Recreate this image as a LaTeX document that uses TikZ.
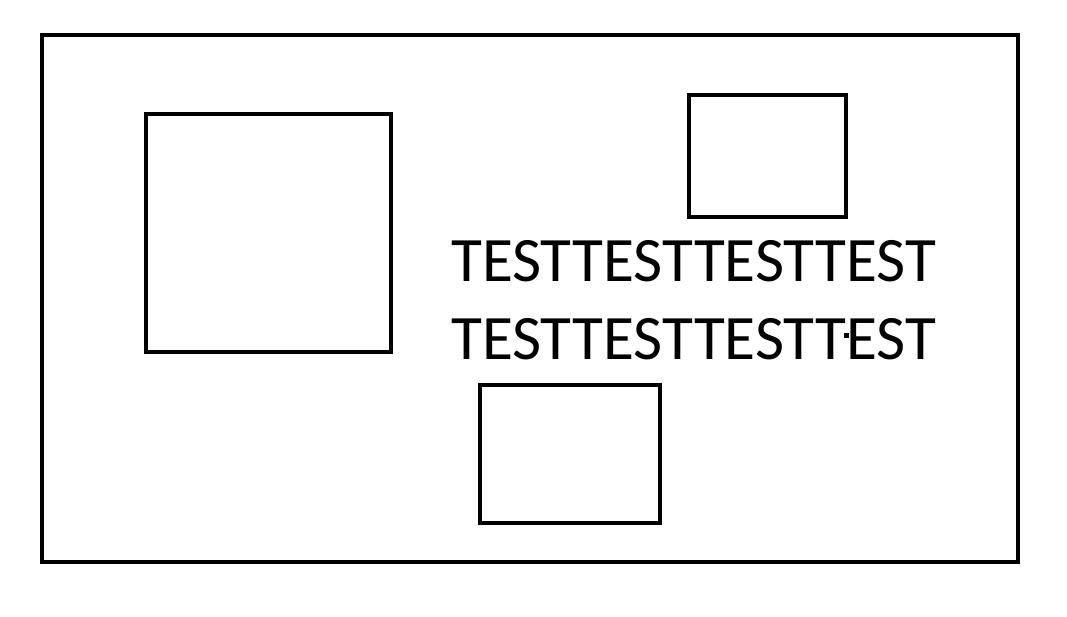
\documentclass[tikz,border=0pt]{standalone}
\usepackage{fontspec}
\setmainfont{Carlito}
\begin{document}
\begin{tikzpicture}[x=1pt,y=-1pt,
  frame/.style={draw=black,line width=4pt,inner sep=0pt,outer sep=0pt,anchor=north west},
  label/.style={anchor=base west,inner sep=0pt,font=\fontsize{63.3}{63.3}\selectfont}]
\useasboundingbox (0,0) rectangle (1067,617);
\node[frame,minimum width=976pt,minimum height=527pt] (outer) at (42,35) {};
\node[frame,minimum width=245pt,minimum height=238pt] (boxa) at (146,114) {};
\node[frame,minimum width=157pt,minimum height=122pt] (boxb) at (689,95) {};
\node[frame,minimum width=180pt,minimum height=138pt] (boxc) at (480,385) {};
\node[label] (line1) at (451,282) {TESTTESTTESTTEST};
\node[label] (line2) at (451,359) {TESTTESTTESTTEST};
\fill[black] (844,333) rectangle (849,338);
\end{tikzpicture}
\end{document}
